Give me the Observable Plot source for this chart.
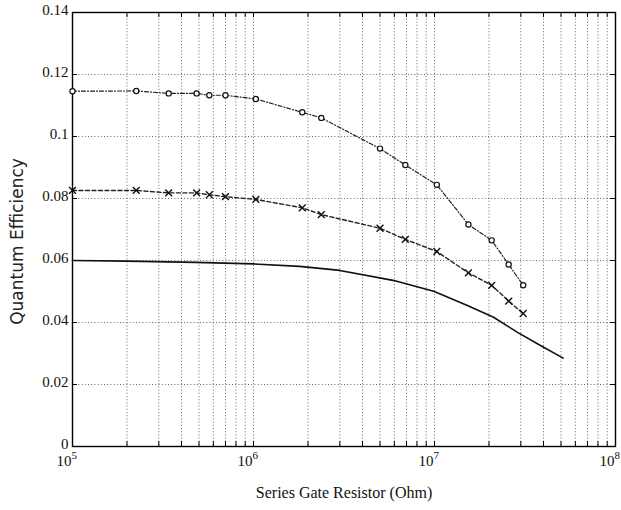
<!DOCTYPE html>
<html><head><meta charset="utf-8">
<script src="https://cdn.jsdelivr.net/npm/d3@7"></script>
<script src="https://cdn.jsdelivr.net/npm/@observablehq/plot@0.6"></script>
<style>body{margin:0;background:#fff;}</style>
</head><body><div id="chart"></div>
<script>
// Data
const resistor = [1e5, 2.25e5, 3.4e5, 4.85e5, 5.7e5, 7.0e5, 1.03e6, 1.86e6, 2.37e6, 5.0e6, 6.9e6, 1.03e7, 1.54e7, 2.07e7, 2.57e7, 3.09e7];
const qeCircle = [0.1146, 0.1147, 0.1139, 0.1139, 0.1133, 0.1133, 0.1121, 0.1078, 0.1060, 0.0961, 0.0908, 0.0844, 0.0716, 0.0665, 0.0587, 0.0520];
const qeCross = [0.0826, 0.0826, 0.0818, 0.0818, 0.0812, 0.0806, 0.0797, 0.0770, 0.0748, 0.0704, 0.0668, 0.0629, 0.0560, 0.0520, 0.0469, 0.0429];
const solidR = [1e5, 2e5, 4.8e5, 1e6, 1.8e6, 3.0e6, 5.9e6, 9.9e6, 1.52e7, 2.12e7, 2.86e7, 3.85e7, 5.14e7];
const solidQE = [0.0600, 0.0598, 0.0594, 0.0589, 0.0581, 0.0568, 0.0536, 0.0501, 0.0455, 0.0417, 0.0369, 0.0326, 0.0285];
const xMajor = [1e5, 1e6, 1e7, 1e8];
const xBase = ["10", "10", "10", "10"];
const xExp = ["5", "6", "7", "8"];
const xMult = [1, 2, 3, 4, 5, 6, 7, 8, 9];
const yTicks = [0, 0.02, 0.04, 0.06, 0.08, 0.1, 0.12, 0.14];
const xTitle = "Series Gate Resistor (Ohm)";
const yTitle = "Quantum Efficiency";

const xAll = xMajor.slice(0, 3).flatMap(d => xMult.map(m => d * m)).concat([1e8]);
const xInner = xAll.filter(d => d > 1e5 && d < 1e8);
const yInner = yTicks.filter(d => d > 0 && d < 0.14);

const circleData = resistor.map((r, i) => ({r, q: qeCircle[i]}));
const crossData = resistor.map((r, i) => ({r, q: qeCross[i]}));
const solidData = solidR.map((r, i) => ({r, q: solidQE[i]}));
const xLabelData = xMajor.map((v, i) => ({v, base: xBase[i], exp: xExp[i]}));

const gridStyle = {stroke: "#000", strokeOpacity: 0.75, strokeWidth: 0.8, strokeDasharray: "1,2.2"};

const chart = Plot.plot({
  width: 621,
  height: 510,
  marginLeft: 72,
  marginRight: 6,
  marginTop: 12,
  marginBottom: 64,
  style: {fontFamily: "Liberation Serif", fontSize: "15px", color: "#111", background: "#fff"},
  x: {type: "log", domain: [1e5, 1e8], axis: null},
  y: {domain: [0, 0.14]},
  marks: [
    Plot.gridX(xInner, gridStyle),
    Plot.gridY(yInner, gridStyle),
    Plot.tickX(xAll, {x: d => d, insetTop: 429, stroke: "#000", strokeWidth: 1}),
    Plot.tickX(xAll, {x: d => d, insetBottom: 429, stroke: "#000", strokeWidth: 1}),
    Plot.tickY(yTicks, {y: d => d, insetLeft: 538, stroke: "#000", strokeWidth: 1}),
    Plot.tickY(yTicks, {y: d => d, insetRight: 538, stroke: "#000", strokeWidth: 1}),
    Plot.frame({stroke: "#000", strokeWidth: 1.4}),
    Plot.axisY(yTicks, {
      tickFormat: d => String(d),
      tickSize: 0, tickPadding: 4, fontSize: 15, dy: -2,
      label: null
    }),
    Plot.text(xLabelData, {x: "v", text: "base", frameAnchor: "bottom", textAnchor: "end", lineAnchor: "middle", dx: -1, dy: 15, fontSize: 15, fill: "#111"}),
    Plot.text(xLabelData, {x: "v", text: "exp", frameAnchor: "bottom", textAnchor: "start", lineAnchor: "middle", dx: -1, dy: 9, fontSize: 11, fill: "#111"}),
    Plot.line(solidData, {x: "r", y: "q", stroke: "#111", strokeWidth: 1.6}),
    Plot.line(crossData, {x: "r", y: "q", stroke: "#222", strokeWidth: 1.4, strokeDasharray: "4,2.5"}),
    Plot.line(circleData, {x: "r", y: "q", stroke: "#222", strokeWidth: 1.2, strokeDasharray: "4,2,1,2"}),
    Plot.dot(circleData, {x: "r", y: "q", symbol: "circle", r: 2.6, stroke: "#111", fill: "#fff", strokeWidth: 1.2}),
    Plot.dot(crossData, {x: "r", y: "q", symbol: "times", r: 3.2, stroke: "#111", strokeWidth: 1.4}),
    Plot.text([xTitle], {frameAnchor: "bottom", textAnchor: "middle", lineAnchor: "middle", dy: 46, fontSize: 16, fill: "#111"}),
    Plot.text([yTitle], {frameAnchor: "left", textAnchor: "middle", lineAnchor: "middle", rotate: -90, dx: -55, dy: 12, fontSize: 17, fontFamily: "DejaVu Sans", fill: "#222"})
  ]
});
document.getElementById("chart").appendChild(chart);
</script>
</body></html>
